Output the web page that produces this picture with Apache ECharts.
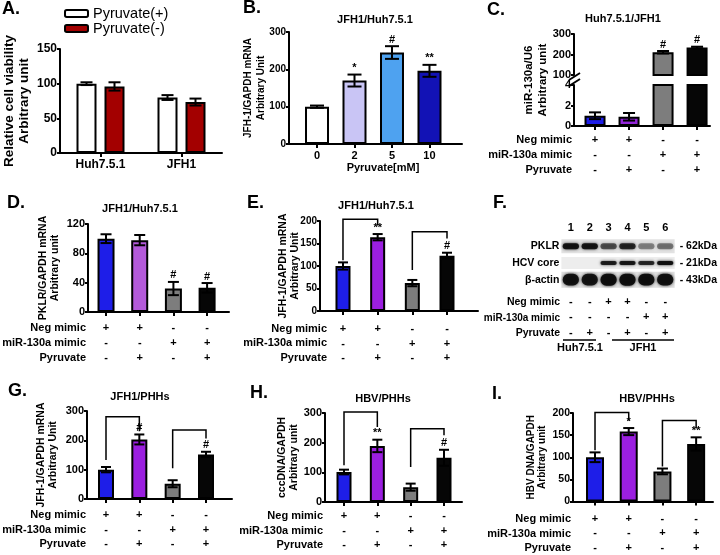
<!DOCTYPE html>
<html><head><meta charset="utf-8">
<script src="https://cdn.jsdelivr.net/npm/echarts@6/dist/echarts.min.js"></script>
<style>html,body{margin:0;padding:0;background:#fff}#c{width:720px;height:555px}</style>
</head><body><div id="c"></div><script>
// ---------------- DATA ----------------
const aCategories = ['Huh7.5.1', 'JFH1'];
const aLegend = ['Pyruvate(+)', 'Pyruvate(-)'];
const aPyrPlus = [100, 80];
const aPyrPlusErr = [2, 3.5];
const aPyrMinus = [96, 73.5];
const aPyrMinusErr = [6, 5];

const bCategories = ['0', '2', '5', '10'];
const bValues = [100, 170, 245, 196];
const bErr = [3, 16, 17, 16];
const bMarks = ['', '*', '#', '**'];

const cValues = [1.0, 0.9, 211, 234];
const cErr = [0.33, 0.37, 6, 4];
const cMarks = ['', '', '#', '#'];

const dValues = [100, 98, 32, 33];
const dErr = [6, 7, 9, 6.5];
const dMarks = ['', '', '#', '#'];

const eValues = [100, 164, 62, 123];
const eErr = [8, 7, 7, 6.5];
const eMarks = ['', '**', '', '#'];
const eBrackets = [[0, 1, 204, 113, 190], [2, 3, 176, 91, 161]];

const gValues = [100, 203, 52, 152];
const gErr = [9, 17, 12, 9];
const gMarks = ['', '#', '', '#'];
const gBrackets = [[0, 1, 280, 133, 231], [2, 3, 235, 105, 206]];

const hValues = [101, 189, 50, 149];
const hErr = [8, 21, 12, 27];
const hMarks = ['', '**', '', '#'];
const hBrackets = [[0, 1, 303, 124, 253], [2, 3, 247, 118, 225]];

const iValues = [100, 158, 68, 130];
const iErr = [11, 8, 6.5, 15];
const iMarks = ['', '*', '', '**'];
const iBrackets = [[0, 1, 201, 116, 183], [2, 3, 183, 79, 165]];

const rowNames = ['Neg mimic', 'miR-130a mimic', 'Pyruvate'];
const negMimic = ['+', '+', '-', '-'];
const mirMimic = ['-', '-', '+', '+'];
const pyruvate = ['-', '+', '-', '+'];

const fLanes = ['1', '2', '3', '4', '5', '6'];
const fProteins = ['PKLR', 'HCV core', 'β-actin'];
const fSizes = ['- 62kDa', '- 21kDa', '- 43kDa'];
const fNeg = ['-', '-', '+', '+', '-', '-'];
const fMir = ['-', '-', '-', '-', '+', '+'];
const fPyr = ['-', '+', '-', '+', '-', '+'];
const fPKLR = [0.92, 0.9, 0.6, 0.8, 0.4, 0.45];
const fCore = [0, 0, 0.85, 0.9, 0.8, 0.95];
const fActin = [0.92, 0.9, 0.96, 0.97, 0.95, 0.94];
const fGroups = ['Huh7.5.1', 'JFH1'];

// ---------------- STYLE ----------------
const FONT = "'Liberation Sans', Arial, Helvetica, sans-serif";
const BLUE = '#1e1ee8', PURPLE = '#9b1fe0', LPURPLE = '#b35ad9', GRAY = '#7d7d7d', BLACK = '#060606';
const T = (size, weight) => ({fontFamily: FONT, fontSize: size, fontWeight: weight || 'bold', color: '#000'});
const LINE = {color: '#000', width: 2};

const grids = [], xAxes = [], yAxes = [], series = [], titles = [], graphics = [];

function errSeries(xi, yi, values, errs, marks, cap, lo, hi, offsetPx) {
  return {
    type: 'custom', xAxisIndex: xi, yAxisIndex: yi, silent: true, z: 3,
    data: values.map((v, i) => [i, v, errs[i]]),
    renderItem: function (params, api) {
      const x = api.value(0), v = api.value(1), e = api.value(2);
      if (lo != null && (v < lo || v > hi)) return null;
      const t = api.coord([x, v + e]), b = api.coord([x, v - e]);
      const dx = offsetPx || 0, hw = cap / 2;
      const st = {stroke: '#000', lineWidth: 2};
      const ch = [
        {type: 'line', shape: {x1: t[0] + dx, y1: t[1], x2: b[0] + dx, y2: b[1]}, style: st},
        {type: 'line', shape: {x1: t[0] + dx - hw, y1: t[1], x2: t[0] + dx + hw, y2: t[1]}, style: st},
        {type: 'line', shape: {x1: b[0] + dx - hw, y1: b[1], x2: b[0] + dx + hw, y2: b[1]}, style: st}
      ];
      const m = marks ? marks[params.dataIndex] : '';
      if (m) ch.push({type: 'text', style: {text: m, x: t[0] + dx, y: t[1] - 1, align: 'center', textAlign: 'center',
        verticalAlign: 'bottom', textVerticalAlign: 'bottom', font: 'bold 11px ' + FONT, fill: '#000'}});
      return {type: 'group', children: ch};
    }
  };
}

function bracketSeries(xi, yi, br) {
  return {
    type: 'custom', xAxisIndex: xi, yAxisIndex: yi, silent: true, z: 4,
    data: br,
    renderItem: function (params, api) {
      const x1 = api.value(0), x2 = api.value(1), top = api.value(2), lb = api.value(3), rb = api.value(4);
      const pts = [api.coord([x1, lb]), api.coord([x1, top]), api.coord([x2, top]), api.coord([x2, rb])];
      return {type: 'polyline', shape: {points: pts}, style: {stroke: '#000', lineWidth: 1.5, fill: null}};
    }
  };
}

function signFmt(v) {
  const i = Math.round(v);
  return negMimic[i] + '\n' + mirMimic[i] + '\n' + pyruvate[i];
}

function barPanel(p) {
  const g = grids.length;
  grids.push({left: p.left, top: p.top, width: p.right - p.left, height: p.bottom - p.top});
  const xi = xAxes.length, yi = yAxes.length;
  xAxes.push({
    gridIndex: g, type: 'value', min: p.xmin, max: p.xmax, show: p.showX !== false,
    axisLine: {show: true, onZero: false, lineStyle: LINE},
    axisTick: {show: true, customValues: [0, 1, 2, 3], length: 4, lineStyle: LINE},
    axisLabel: Object.assign({show: true, customValues: [0, 1, 2, 3], formatter: p.xfmt || signFmt,
      margin: p.xMargin, lineHeight: p.xLH || 15}, T(p.xFont || 11)),
    splitLine: {show: false},
    name: p.xName || '', nameLocation: 'middle', nameGap: p.xNameGap || 0, nameMoveOverlap: false,
    nameTextStyle: Object.assign({padding: p.xNamePad || 0}, T(11))
  });
  yAxes.push({
    gridIndex: g, type: 'value', min: p.ymin, max: p.ymax, interval: p.yint,
    axisLine: {show: true, onZero: false, lineStyle: LINE}, axisTick: {show: true, length: 3, lineStyle: LINE},
    axisLabel: Object.assign({margin: 3}, T(p.yFont)), splitLine: {show: false},
    name: p.yName || '', nameLocation: 'middle', nameRotate: 90, nameGap: p.yNameGap || 0, nameMoveOverlap: false,
    nameTextStyle: Object.assign({lineHeight: p.yNameLH || 12}, T(p.yNameFont || 10.5))
  });
  series.push({
    type: 'bar', xAxisIndex: xi, yAxisIndex: yi, barWidth: p.barWidth, clip: true, silent: true,
    itemStyle: {borderColor: '#000', borderWidth: 2},
    data: p.values.map((v, i) => ({value: [i, v], itemStyle: {color: p.colors[i]}}))
  });
  series.push(errSeries(xi, yi, p.values, p.errs, p.marks, p.cap, p.lo, p.hi));
  if (p.brackets) series.push(bracketSeries(xi, yi, p.brackets));
}

function rowLabels(rightX, ys, size) {
  rowNames.forEach((n, k) => graphics.push({type: 'text', x: rightX, y: ys[k], silent: true,
    style: {text: n, align: 'right', textAlign: 'right', verticalAlign: 'middle', textVerticalAlign: 'middle',
      font: 'bold ' + size + 'px ' + FONT, fill: '#000'}}));
}

function letter(t, x, cy) {
  titles.push({text: t, left: x, top: cy - 10, padding: 0, textStyle: T(18)});
}
function subTitle(t, cx, cy) {
  titles.push({text: t, left: cx, top: cy - 6, textAlign: 'center', padding: 0, textStyle: T(11)});
}

// ---------------- PANEL A ----------------
letter('A.', 2, 10);
(function () {
  const g = grids.length;
  grids.push({left: 60, top: 49, width: 162, height: 104});
  const xi = xAxes.length, yi = yAxes.length;
  xAxes.push({gridIndex: g, type: 'category', data: aCategories,
    axisLine: {show: true, lineStyle: LINE}, axisTick: {show: true, alignWithLabel: true, length: 4, lineStyle: LINE},
    axisLabel: Object.assign({margin: 6}, T(12))});
  yAxes.push({gridIndex: g, type: 'value', min: 0, max: 150, interval: 50,
    axisLine: {show: true, onZero: false, lineStyle: LINE}, axisTick: {show: true, length: 3, lineStyle: LINE},
    axisLabel: Object.assign({margin: 3}, T(12)), splitLine: {show: false},
    name: 'Relative cell viability\nArbitrary unit', nameLocation: 'middle', nameRotate: 90, nameGap: 28,
    nameMoveOverlap: false, nameTextStyle: Object.assign({lineHeight: 15}, T(13.5))});
  series.push({type: 'bar', name: aLegend[0], xAxisIndex: xi, yAxisIndex: yi, barWidth: 20, barGap: '40%', silent: true,
    itemStyle: {color: '#ffffff', borderColor: '#000', borderWidth: 2}, data: aPyrPlus});
  series.push({type: 'bar', name: aLegend[1], xAxisIndex: xi, yAxisIndex: yi, barWidth: 20, barGap: '40%', silent: true,
    itemStyle: {color: '#a30000', borderColor: '#000', borderWidth: 2}, data: aPyrMinus});
  series.push(errSeries(xi, yi, aPyrPlus, aPyrPlusErr, null, 12, null, null, -14));
  series.push(errSeries(xi, yi, aPyrMinus, aPyrMinusErr, null, 12, null, null, 14));
})();

// ---------------- PANEL B ----------------
letter('B.', 243, 9);
subTitle('JFH1/Huh7.5.1', 375, 20);
barPanel({left: 289, right: 462, top: 32, bottom: 144, xmin: -0.747, xmax: 3.867,
  ymin: 0, ymax: 300, yint: 100, yFont: 10, xFont: 11, xLH: 13, xMargin: 5,
  xfmt: v => bCategories[Math.round(v)], xName: 'Pyruvate[mM]', xNameGap: 18, xNamePad: [0, 0, 0, 15],
  yName: 'JFH-1/GAPDH mRNA\nArbitrary Unit', yNameGap: 22, yNameFont: 10, yNameLH: 12.5,
  values: bValues, errs: bErr, marks: bMarks, barWidth: 24, cap: 14,
  colors: ['#ffffff', '#c9c5f5', '#4ea2f0', '#1212b5']});

// ---------------- PANEL C (broken axis) ----------------
letter('C.', 487, 11);
subTitle('Huh7.5.1/JFH1', 623, 19);
const cColors = [BLUE, '#9225d8', GRAY, BLACK];
barPanel({left: 574, right: 710, top: 34, bottom: 75, xmin: -0.618, xmax: 3.38, showX: false,
  ymin: 100, ymax: 300, yint: 100, yFont: 11, xMargin: 6,
  values: cValues, errs: cErr, marks: cMarks, barWidth: 21, cap: 12, lo: 100, hi: 300, colors: cColors});
barPanel({left: 574, right: 710, top: 85, bottom: 126, xmin: -0.618, xmax: 3.38,
  ymin: 0, ymax: 4, yint: 2, yFont: 11, xMargin: 6.5, xLH: 15,
  values: cValues, errs: cErr, marks: null, barWidth: 21, cap: 12, lo: 0, hi: 4, colors: cColors});
graphics.push({type: 'text', x: 536, y: 80, rotation: Math.PI / 2, silent: true,
  style: {text: 'miR-130a/U6\nArbitrary unit', align: 'center', textAlign: 'center', verticalAlign: 'middle',
    textVerticalAlign: 'middle', lineHeight: 13.5, font: 'bold 11.5px ' + FONT, fill: '#000'}});
graphics.push({type: 'line', silent: true, shape: {x1: 569, y1: 80, x2: 580, y2: 73}, style: {stroke: '#000', lineWidth: 2}});
graphics.push({type: 'line', silent: true, shape: {x1: 569, y1: 86, x2: 580, y2: 79}, style: {stroke: '#000', lineWidth: 2}});
rowLabels(572, [140, 155, 170], 11);

// ---------------- PANEL D ----------------
letter('D.', 7, 204);
subTitle('JFH1/Huh7.5.1', 140, 209);
barPanel({left: 88, right: 229, top: 224, bottom: 312, xmin: -0.535, xmax: 3.65,
  ymin: 0, ymax: 120, yint: 40, yFont: 11, xMargin: 9, xLH: 14.7,
  yName: 'PKLR/GAPDH mRNA\nArbitrary unit', yNameGap: 27, yNameFont: 10.5, yNameLH: 12,
  values: dValues, errs: dErr, marks: dMarks, barWidth: 17, cap: 11,
  colors: [BLUE, LPURPLE, GRAY, BLACK]});
rowLabels(86, [328.3, 342.5, 357.7], 11);

// ---------------- PANEL E ----------------
letter('E.', 247, 204);
subTitle('JFH1/Huh7.5.1', 376, 206);
barPanel({left: 320, right: 478, top: 221, bottom: 311, xmin: -0.663, xmax: 3.894,
  ymin: 0, ymax: 200, yint: 50, yFont: 10, xMargin: 10.7, xLH: 14.7,
  yName: 'JFH-1/GAPDH mRNA\nArbitrary Unit', yNameGap: 19, yNameFont: 10.5, yNameLH: 12,
  values: eValues, errs: eErr, marks: eMarks, barWidth: 15, cap: 10, brackets: eBrackets,
  colors: [BLUE, PURPLE, GRAY, BLACK]});
rowLabels(327, [329, 343.3, 358.3], 11);

// ---------------- PANEL F (western blot) ----------------
letter('F.', 493, 204);
(function () {
  const g = grids.length;
  grids.push({left: 561.4, top: 238, width: 115.2, height: 50});
  const xb = xAxes.length;
  const hide = {axisLine: {show: false}, axisTick: {show: false}, splitLine: {show: false}};
  xAxes.push(Object.assign({gridIndex: g, type: 'value', min: -0.5, max: 5.5, position: 'bottom',
    axisLabel: Object.assign({customValues: [0, 1, 2, 3, 4, 5], margin: 6, lineHeight: 15.5,
      formatter: v => { const i = Math.round(v); return fNeg[i] + '\n' + fMir[i] + '\n' + fPyr[i]; }}, T(11))}, hide));
  xAxes.push(Object.assign({gridIndex: g, type: 'value', min: -0.5, max: 5.5, position: 'top',
    axisLabel: Object.assign({customValues: [0, 1, 2, 3, 4, 5], margin: 5,
      formatter: v => fLanes[Math.round(v)]}, T(11))}, hide));
  const yl = yAxes.length;
  yAxes.push(Object.assign({gridIndex: g, type: 'category', data: fProteins, inverse: true, position: 'left',
    axisLabel: Object.assign({margin: 2}, T(10.5))}, hide));
  yAxes.push(Object.assign({gridIndex: g, type: 'category', data: fSizes, inverse: true, position: 'right',
    axisLabel: Object.assign({margin: 5}, T(10.5))}, hide));
  const stripH = [14, 12, 16];
  const stripC = ['#e2e2e2', '#ededed', '#dedede'];
  series.push({type: 'custom', xAxisIndex: xb, yAxisIndex: yl, silent: true, z: 1,
    data: fProteins.map((p, r) => [-0.5, r, 5.5]),
    renderItem: function (params, api) {
      const r = params.dataIndex;
      const a = api.coord([api.value(0), r]), b = api.coord([api.value(2), r]);
      return {type: 'rect', shape: {x: a[0], y: a[1] - stripH[r] / 2, width: b[0] - a[0], height: stripH[r]},
        style: {fill: stripC[r]}};
    }});
  const bandH = [6, 4, 10];
  const bands = [];
  [fPKLR, fCore, fActin].forEach((arr, r) => arr.forEach((v, i) => bands.push([i, r, v])));
  series.push({type: 'custom', xAxisIndex: xb, yAxisIndex: yl, silent: true, z: 2,
    data: bands,
    renderItem: function (params, api) {
      const i = api.value(0), r = api.value(1), a = api.value(2);
      if (!(a > 0)) return null;
      const c = api.coord([i, r]);
      const w = api.size([1, 0])[0] * 0.86;
      const h = bandH[r] + (r === 2 ? a * 2 : 0);
      const col = 'rgba(12,12,12,' + a + ')';
      return {type: 'rect', shape: {x: c[0] - w / 2, y: c[1] - h / 2, width: w, height: h, r: h / 2},
        style: {fill: col, shadowBlur: 3, shadowColor: col}};
    }});
})();
graphics.push({type: 'text', x: 560, y: 302, silent: true, style: {text: rowNames[0], align: 'right', textAlign: 'right', verticalAlign: 'middle', textVerticalAlign: 'middle', font: 'bold 10.5px ' + FONT, fill: '#000'}});
graphics.push({type: 'text', x: 560, y: 318, silent: true, style: {text: rowNames[1], align: 'right', textAlign: 'right', verticalAlign: 'middle', textVerticalAlign: 'middle', font: 'bold 10px ' + FONT, fill: '#000'}});
graphics.push({type: 'text', x: 560, y: 333, silent: true, style: {text: rowNames[2], align: 'right', textAlign: 'right', verticalAlign: 'middle', textVerticalAlign: 'middle', font: 'bold 10.5px ' + FONT, fill: '#000'}});
graphics.push({type: 'line', silent: true, shape: {x1: 563, y1: 340, x2: 596, y2: 340}, style: {stroke: '#000', lineWidth: 1.5}});
graphics.push({type: 'line', silent: true, shape: {x1: 612, y1: 340, x2: 674, y2: 340}, style: {stroke: '#000', lineWidth: 1.5}});
graphics.push({type: 'text', x: 580, y: 348, silent: true, style: {text: fGroups[0], align: 'center', textAlign: 'center', verticalAlign: 'middle', textVerticalAlign: 'middle', font: 'bold 11px ' + FONT, fill: '#000'}});
graphics.push({type: 'text', x: 643, y: 348, silent: true, style: {text: fGroups[1], align: 'center', textAlign: 'center', verticalAlign: 'middle', textVerticalAlign: 'middle', font: 'bold 11px ' + FONT, fill: '#000'}});

// ---------------- PANEL G ----------------
letter('G.', 8, 392);
subTitle('JFH1/PHHs', 140, 397);
barPanel({left: 87, right: 232, top: 411, bottom: 499, xmin: -0.57, xmax: 3.78,
  ymin: 0, ymax: 300, yint: 100, yFont: 11, xMargin: 9.2, xLH: 14.3,
  yName: 'JFH-1/GAPDH mRNA\nArbitrary Unit', yNameGap: 28, yNameFont: 10.5, yNameLH: 12,
  values: gValues, errs: gErr, marks: gMarks, barWidth: 16, cap: 10, brackets: gBrackets,
  colors: [BLUE, PURPLE, GRAY, BLACK]});
rowLabels(86, [515.3, 529.5, 544], 11);

// ---------------- PANEL H ----------------
letter('H.', 250, 394);
subTitle('HBV/PHHs', 383, 399);
barPanel({left: 325, right: 462, top: 413, bottom: 502, xmin: -0.57, xmax: 3.54,
  ymin: 0, ymax: 300, yint: 100, yFont: 11, xMargin: 6.8, xLH: 14.5,
  yName: 'cccDNA/GAPDH\nArbitrary unit', yNameGap: 25, yNameFont: 10.5, yNameLH: 12,
  values: hValues, errs: hErr, marks: hMarks, barWidth: 15, cap: 10, brackets: hBrackets,
  colors: [BLUE, PURPLE, GRAY, BLACK]});
rowLabels(323, [516, 530.7, 545], 11);

// ---------------- PANEL I ----------------
letter('I.', 492, 395);
subTitle('HBV/PHHs', 647, 399);
barPanel({left: 573, right: 713, top: 413, bottom: 502, xmin: -0.653, xmax: 3.5,
  ymin: 0, ymax: 200, yint: 50, yFont: 10.5, xMargin: 10, xLH: 14.5,
  yName: 'HBV DNA/GAPDH\nArbitrary unit', yNameGap: 25, yNameFont: 10, yNameLH: 11,
  values: iValues, errs: iErr, marks: iMarks, barWidth: 18, cap: 11, brackets: iBrackets,
  colors: [BLUE, PURPLE, GRAY, BLACK]});
rowLabels(571, [519.3, 534, 548.3], 11);

// ---------------- CHART ----------------
const chart = echarts.init(document.getElementById('c'), null, {renderer: 'canvas'});
chart.setOption({
  animation: false,
  backgroundColor: '#ffffff',
  title: titles,
  legend: {data: aLegend, orient: 'vertical', left: 64, top: 6, itemWidth: 23, itemHeight: 7, itemGap: 0,
    selectedMode: false, padding: 0, textStyle: Object.assign({lineHeight: 12}, T(14.5, 'normal'))},
  grid: grids,
  xAxis: xAxes,
  yAxis: yAxes,
  series: series,
  graphic: {elements: graphics}
});
</script></body></html>
